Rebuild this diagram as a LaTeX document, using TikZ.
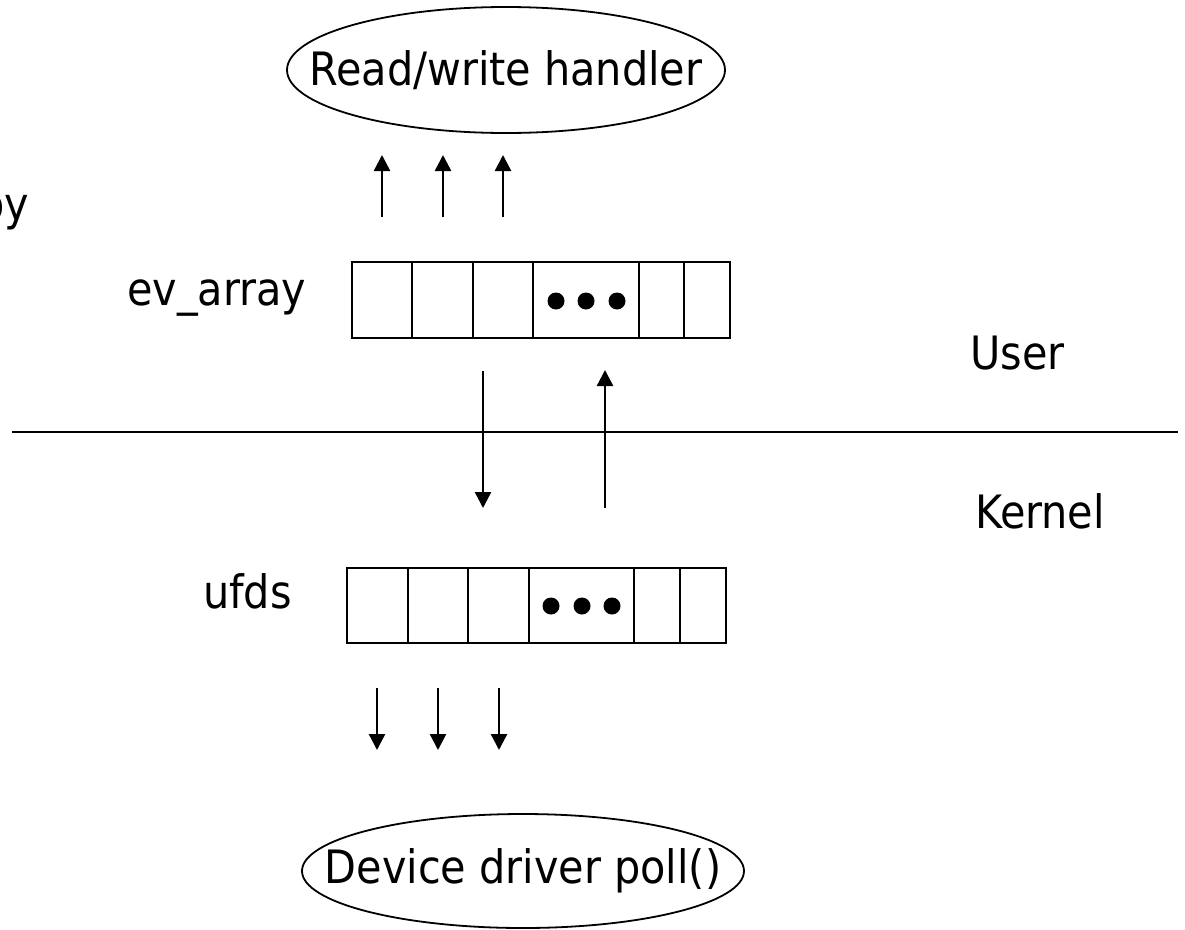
\documentclass[tikz,border=0pt]{standalone}
\usepackage{fontspec}
\setmainfont{DejaVu Sans Condensed}
\usetikzlibrary{shapes.geometric,arrows.meta}
\tikzset{
  px/.style={x=1pt,y=-1pt},
  cellbox/.style={draw=black,line width=2.4pt,inner sep=0pt,minimum height=76pt},
  dotmark/.style={fill=black,circle,inner sep=0pt,minimum size=17pt},
  ovaltext/.style={inner sep=0pt,font=\fontsize{46}{50}\selectfont},
  ovalline/.style={draw=black,line width=1.8pt},
  lbl/.style={inner sep=0pt,anchor=base west,font=\fontsize{46}{50}\selectfont},
  arr/.style={line width=2.4pt,-{Triangle[length=16pt,width=16pt]}},
}
\begin{document}
\begin{tikzpicture}[px]
\useasboundingbox (0,0) rectangle (1185,929);
% ellipses
\node[ovaltext] (rw) at (506,70) {Read/write handler};
\draw[ovalline] (rw.center) ellipse [x radius=219pt, y radius=63pt];
\node[ovaltext] (dd) at (523,871) {Device driver poll()};
\draw[ovalline] (dd.center) ellipse [x radius=221pt, y radius=57pt];
% top array
\node[cellbox,minimum width=60pt] (t1) at (382,300) {};
\node[cellbox,minimum width=61pt] (t2) at (442.5,300) {};
\node[cellbox,minimum width=60pt] (t3) at (503,300) {};
\node[cellbox,minimum width=106pt] (t4) at (586,300) {};
\node[cellbox,minimum width=45pt] (t5) at (661.5,300) {};
\node[cellbox,minimum width=46pt] (t6) at (707,300) {};
\node[dotmark] (td1) at (556,301) {};
\node[dotmark] (td2) at (586,301) {};
\node[dotmark] (td3) at (617,301) {};
% bottom array
\node[cellbox,minimum width=61pt,minimum height=75pt] (b1) at (377.5,605.5) {};
\node[cellbox,minimum width=60pt,minimum height=75pt] (b2) at (438,605.5) {};
\node[cellbox,minimum width=61pt,minimum height=75pt] (b3) at (498.5,605.5) {};
\node[cellbox,minimum width=105pt,minimum height=75pt] (b4) at (581.5,605.5) {};
\node[cellbox,minimum width=46pt,minimum height=75pt] (b5) at (657,605.5) {};
\node[cellbox,minimum width=46pt,minimum height=75pt] (b6) at (703,605.5) {};
\node[dotmark] (bd1) at (551,606) {};
\node[dotmark] (bd2) at (582,606) {};
\node[dotmark] (bd3) at (612,606) {};
% labels
\node[lbl] (ev) at (127,305) {ev\_array};
\node[lbl] (uf) at (203,608) {ufds};
\node[lbl] (us) at (970,369) {User};
\node[lbl] (ke) at (975,528) {Kernel};
\node[inner sep=0pt,anchor=base east,font=\fontsize{46}{50}\selectfont] (cp) at (29,220) {py};
% separator
\coordinate (sl) at (12,432);
\coordinate (sr) at (1178,432);
\draw[line width=2.4pt] (sl) -- (sr);
% up arrows above top array
\coordinate (ua1) at (382,217); \coordinate (ub1) at (382,155);
\coordinate (ua2) at (443,217); \coordinate (ub2) at (443,155);
\coordinate (ua3) at (503,217); \coordinate (ub3) at (503,155);
\draw[arr] (ua1) -- (ub1);
\draw[arr] (ua2) -- (ub2);
\draw[arr] (ua3) -- (ub3);
% middle arrows
\coordinate (ma) at (483,371); \coordinate (mb) at (483,508);
\coordinate (mc) at (605,508); \coordinate (md) at (605,370);
\draw[arr] (ma) -- (mb);
\draw[arr] (mc) -- (md);
% down arrows below bottom array
\coordinate (da1) at (377,688); \coordinate (db1) at (377,750);
\coordinate (da2) at (438,688); \coordinate (db2) at (438,750);
\coordinate (da3) at (499,688); \coordinate (db3) at (499,750);
\draw[arr] (da1) -- (db1);
\draw[arr] (da2) -- (db2);
\draw[arr] (da3) -- (db3);
\end{tikzpicture}
\end{document}
